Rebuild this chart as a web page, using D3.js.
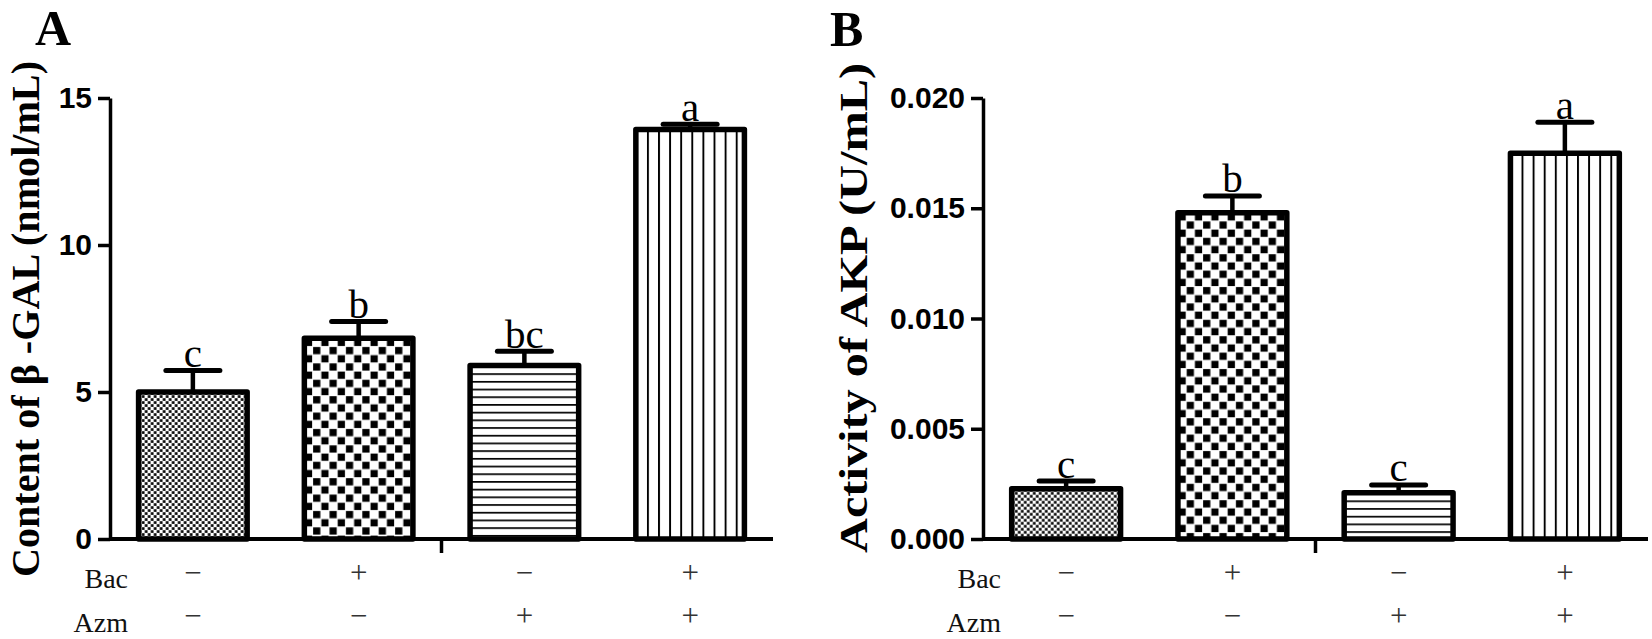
<!DOCTYPE html>
<html><head><meta charset="utf-8">
<script src="https://cdn.jsdelivr.net/npm/d3@7"></script>
<style>body{margin:0;background:#fff}</style></head>
<body>
<script>
// ---- data ----
const groups = ["G1", "G2", "G3", "G4"];
const bacSigns = ["−", "+", "−", "+"];
const azmSigns = ["−", "−", "+", "+"];
const galMean = [5.0, 6.83, 5.90, 13.93];
const galErr = [0.73, 0.57, 0.49, 0.18];
const galLetters = ["c", "b", "bc", "a"];
const galTicks = [0, 5, 10, 15];
const akpMean = [0.00228, 0.0148, 0.0021, 0.0175];
const akpErr = [0.00035, 0.00076, 0.00035, 0.0014];
const akpLetters = ["c", "b", "c", "a"];
const akpTicks = [0, 0.005, 0.010, 0.015, 0.020];
const patternKinds = ["fine", "checker", "hlines", "vlines"];
const rowLabels = ["Bac", "Azm"];

const W = 1652, H = 639;
const svg = d3.select("body").append("svg").attr("width", W).attr("height", H);
const defs = svg.append("defs");
const SERIF = "'Liberation Serif','Times New Roman',serif";
const SANS = "'Liberation Sans',Arial,sans-serif";

function makePattern(id, kind, px, py) {
  let p;
  if (kind === "fine") {
    p = defs.append("pattern").attr("id", id).attr("patternUnits", "userSpaceOnUse")
      .attr("x", px).attr("y", py).attr("width", 6).attr("height", 6);
    p.append("rect").attr("width", 6).attr("height", 6).attr("fill", "#fff");
    p.append("rect").attr("x", 0.2).attr("y", 0.2).attr("width", 2.7).attr("height", 2.7).attr("fill", "#000");
    p.append("rect").attr("x", 3.2).attr("y", 3.2).attr("width", 2.7).attr("height", 2.7).attr("fill", "#000");
  } else if (kind === "checker") {
    p = defs.append("pattern").attr("id", id).attr("patternUnits", "userSpaceOnUse")
      .attr("x", px).attr("y", py).attr("width", 16.4).attr("height", 16.4);
    p.append("rect").attr("width", 16.4).attr("height", 16.4).attr("fill", "#fff");
    p.append("rect").attr("x", 0.6).attr("y", 0.6).attr("width", 7.2).attr("height", 7.2).attr("fill", "#000");
    p.append("rect").attr("x", 8.8).attr("y", 8.8).attr("width", 7.2).attr("height", 7.2).attr("fill", "#000");
  } else if (kind === "hlines") {
    p = defs.append("pattern").attr("id", id).attr("patternUnits", "userSpaceOnUse")
      .attr("x", px).attr("y", py).attr("width", 10).attr("height", 7.7);
    p.append("rect").attr("width", 10).attr("height", 7.7).attr("fill", "#fff");
    p.append("rect").attr("x", 0).attr("y", 0).attr("width", 10).attr("height", 1.7).attr("fill", "#000");
  } else {
    p = defs.append("pattern").attr("id", id).attr("patternUnits", "userSpaceOnUse")
      .attr("x", px).attr("y", py).attr("width", 11.1).attr("height", 10);
    p.append("rect").attr("width", 11.1).attr("height", 10).attr("fill", "#fff");
    p.append("rect").attr("x", 0).attr("y", 0).attr("width", 1.9).attr("height", 10).attr("fill", "#000");
  }
}

function panel(cfg) {
  const g = svg.append("g");
  const base = 539, top = 98;
  const x = d3.scaleBand().domain(groups).range([cfg.x0, cfg.x1]).paddingInner(0.345).paddingOuter(0.1725);
  const y = d3.scaleLinear().domain([0, cfg.max]).range([base, top]);
  const bw = x.bandwidth();

  groups.forEach((gr, i) => {
    const bx = x(gr), by = y(cfg.mean[i]);
    const id = cfg.name + "-p" + i;
    makePattern(id, patternKinds[i], bx, by);
    g.append("rect").attr("x", bx).attr("y", by).attr("width", bw).attr("height", base - by)
      .attr("fill", `url(#${id})`).attr("stroke", "#000").attr("stroke-width", 5.5)
      .attr("stroke-linejoin", "round");
    const cx = bx + bw / 2, ey = y(cfg.mean[i] + cfg.err[i]);
    g.append("line").attr("x1", cx).attr("x2", cx).attr("y1", by).attr("y2", ey)
      .attr("stroke", "#000").attr("stroke-width", 4.5);
    g.append("line").attr("x1", cx - 27).attr("x2", cx + 27).attr("y1", ey).attr("y2", ey)
      .attr("stroke", "#000").attr("stroke-width", 5).attr("stroke-linecap", "round");
    g.append("text").attr("x", cx).attr("y", ey - 3.5).attr("text-anchor", "middle")
      .attr("font-family", SERIF).attr("font-size", 41).text(cfg.letters[i]);
    g.append("text").attr("x", cx).attr("y", 583).attr("text-anchor", "middle")
      .attr("font-family", SERIF).attr("font-size", 31).attr("fill", "#333").text(bacSigns[i]);
    g.append("text").attr("x", cx).attr("y", 626).attr("text-anchor", "middle")
      .attr("font-family", SERIF).attr("font-size", 31).attr("fill", "#333").text(azmSigns[i]);
  });

  g.append("line").attr("x1", cfg.x0).attr("x2", cfg.x1).attr("y1", base).attr("y2", base)
    .attr("stroke", "#000").attr("stroke-width", 4);
  const mid = (cfg.x0 + cfg.x1) / 2;
  g.append("line").attr("x1", mid).attr("x2", mid).attr("y1", base).attr("y2", base + 14)
    .attr("stroke", "#000").attr("stroke-width", 3.5);

  const ya = g.append("g").attr("transform", `translate(${cfg.x0},0)`)
    .call(d3.axisLeft(y).tickValues(cfg.ticks).tickFormat(cfg.fmt).tickSize(12).tickSizeOuter(0).tickPadding(6));
  ya.select(".domain").attr("stroke", "#000").attr("stroke-width", 3.5);
  ya.selectAll(".tick line").attr("stroke", "#000").attr("stroke-width", 3.5);
  ya.selectAll(".tick text").attr("font-family", SANS).attr("font-weight", "bold")
    .attr("font-size", 30).attr("fill", "#000");

  rowLabels.forEach((lab, j) => {
    g.append("text").attr("x", cfg.x0 + 18).attr("y", 588 + j * 44).attr("text-anchor", "end")
      .attr("font-family", SERIF).attr("font-size", 28).attr("fill", "#111").text(lab);
  });

  g.append("text").attr("transform", `translate(${cfg.titleX},${cfg.titleY}) rotate(-90)`)
    .attr("text-anchor", "middle").attr("dominant-baseline", "central")
    .attr("font-family", SERIF).attr("font-weight", "bold").attr("font-size", 40)
    .attr("textLength", cfg.titleLen).attr("lengthAdjust", "spacingAndGlyphs")
    .text(cfg.title);

  g.append("text").attr("x", cfg.letterX).attr("y", cfg.letterY)
    .attr("font-family", SERIF).attr("font-weight", "bold").attr("font-size", 50).text(cfg.panel);
}

panel({name: "A", x0: 110, x1: 773, max: 15, mean: galMean, err: galErr, letters: galLetters,
  ticks: galTicks, fmt: d3.format("d"), title: "Content of β -GAL (nmol/mL)",
  titleX: 25, titleY: 319, titleLen: 516, panel: "A", letterX: 35, letterY: 45});
panel({name: "B", x0: 983, x1: 1648, max: 0.02, mean: akpMean, err: akpErr, letters: akpLetters,
  ticks: akpTicks, fmt: d3.format(".3f"), title: "Activity of AKP (U/mL)",
  titleX: 853, titleY: 308, titleLen: 490, panel: "B", letterX: 830, letterY: 46});
</script>
</body></html>
